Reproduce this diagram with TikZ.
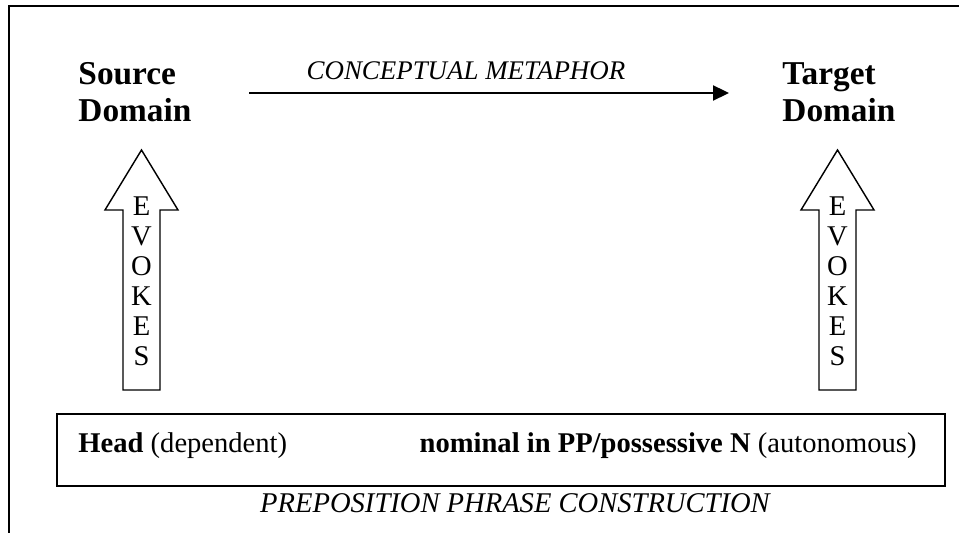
\documentclass[tikz,border=0pt]{standalone}
\usepackage{fontspec}
\setmainfont{Liberation Serif}
\usetikzlibrary{arrows.meta}

\begin{document}
\begin{tikzpicture}[
  x=0.42pt, y=-0.42pt,
  domlabel/.style={anchor=north west, inner sep=0pt, align=left,
                   font=\fontsize{14}{15.5}\selectfont\bfseries},
  letters/.style={inner sep=0pt, align=center, font=\fontsize{12}{12.6}\selectfont},
  blockarrow/.style={draw, line width=0.6pt, fill=white},
  ppbox/.style={rectangle, draw, line width=0.8pt, inner sep=0pt,
                minimum width=372.96pt, minimum height=30.24pt},
  plain/.style={inner sep=0pt, font=\fontsize{12}{14}\selectfont},
  arrow/.style={-{Triangle[length=6.7pt,width=6.3pt]}, line width=0.85pt}
]
\useasboundingbox (0,0) rectangle (959,533);

%% ---- frame ----
\draw[line width=0.6pt] (9,533) |- (959,6);

%% ---- domains ----
\node[domlabel] (src) at (78,62)  {Source\\Domain};
\node[domlabel] (tgt) at (782,62) {Target\\Domain};

%% ---- metaphor arrow ----
\coordinate (mstart) at (249,93);
\coordinate (mend)   at (729,93);
\draw[arrow] (mstart) -- node[pos=0.452, above=5pt, inner sep=0pt,
  font=\fontsize{11.3}{13}\selectfont\itshape] (meta) {CONCEPTUAL METAPHOR} (mend);

%% ---- evokes arrows ----
\draw[blockarrow] (123,390) -- (123,210) -- (105,210) -- (141.5,150)
  -- (178,210) -- (160,210) -- (160,390) -- cycle;
\node[letters] (evL) at (141.5,281) {E\\V\\O\\K\\E\\S};

\draw[blockarrow] (819,390) -- (819,210) -- (801,210) -- (837.5,150)
  -- (874,210) -- (856,210) -- (856,390) -- cycle;
\node[letters] (evR) at (837.5,281) {E\\V\\O\\K\\E\\S};

%% ---- construction box ----
\node[ppbox] (pp) at (501,450) {};
\node[plain, anchor=base west] (head)    at (78,452)  {\textbf{Head} (dependent)};
\node[plain, anchor=base east] (nominal) at (917,452) {\textbf{nominal in PP/possessive N} (autonomous)};
\node[plain, anchor=base, font=\fontsize{12}{14}\selectfont\itshape] (ppc) at (515,512)
  {PREPOSITION PHRASE CONSTRUCTION};
\end{tikzpicture}
\end{document}
